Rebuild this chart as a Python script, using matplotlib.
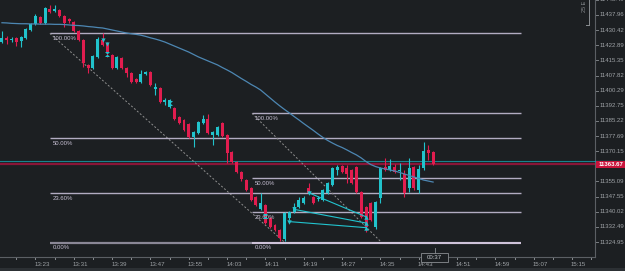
import matplotlib
matplotlib.use("Agg")
import matplotlib.pyplot as plt
from matplotlib.transforms import blended_transform_factory, offset_copy
from matplotlib.path import Path
from matplotlib.patches import Rectangle
from matplotlib.lines import Line2D

plt.rcParams['font.family'] = ['Liberation Sans', 'DejaVu Sans']

# ---------------- data (minutes after 13:00, prices) ----------------
minutes = list(range(16, 107))
opens = [11424.5, 11426.7, 11425.7, 11426.5, 11425.0, 11426.5, 11430.5, 11433.5, 11436.9, 11434.0,
         11440.9, 11439.9, 11440.4, 11437.4, 11436.0, 11434.5, 11430.0, 11425.5, 11413.0, 11411.6,
         11417.0, 11425.5, 11424.0, 11418.0, 11411.6, 11416.5, 11411.6, 11409.1, 11406.1, 11404.6,
         11408.6, 11409.6, 11401.1, 11401.6, 11394.6, 11392.1, 11391.6, 11387.2, 11385.7, 11383.7,
         11377.2, 11379.2, 11384.2, 11386.2, 11378.2, 11378.2, 11384.2, 11378.2, 11369.8, 11364.8,
         11359.8, 11355.8, 11351.8, 11347.4, 11341.4, 11343.4, 11336.9, 11333.4, 11330.9, 11326.4,
         11336.9, 11339.9, 11342.4, 11344.4, 11351.8, 11347.4, 11346.4, 11345.9, 11349.3, 11353.3,
         11360.8, 11362.8, 11361.8, 11360.8, 11362.3, 11349.8, 11342.4, 11344.4, 11332.4, 11346.9,
         11362.3, 11360.8, 11362.3, 11360.5, 11358.8, 11351.8, 11362.3, 11350.8, 11361.8, 11370.8,
         11369.8]
highs = [11430.0, 11427.5, 11427.0, 11427.0, 11427.5, 11431.5, 11434.0, 11438.4, 11437.4, 11441.9,
         11442.9, 11442.9, 11440.9, 11437.9, 11436.5, 11435.0, 11430.5, 11426.0, 11413.5, 11418.0,
         11427.0, 11429.0, 11424.5, 11418.5, 11417.5, 11417.0, 11412.0, 11409.6, 11406.6, 11410.6,
         11410.1, 11410.1, 11404.1, 11402.1, 11396.6, 11396.1, 11392.1, 11387.7, 11386.2, 11384.2,
         11380.2, 11385.2, 11388.2, 11388.7, 11380.2, 11382.7, 11384.7, 11378.7, 11370.3, 11365.3,
         11360.3, 11356.3, 11352.3, 11347.8, 11349.3, 11343.9, 11337.4, 11333.9, 11331.4, 11339.9,
         11340.4, 11344.4, 11347.4, 11347.8, 11354.3, 11347.8, 11347.8, 11351.3, 11354.8, 11362.3,
         11363.3, 11363.3, 11363.3, 11361.3, 11362.8, 11350.3, 11342.9, 11344.9, 11345.4, 11362.3,
         11366.8, 11366.3, 11363.8, 11364.3, 11360.8, 11366.8, 11362.8, 11363.3, 11374.7, 11373.2,
         11370.3]
lows = [11424.0, 11423.5, 11424.5, 11422.5, 11422.0, 11426.0, 11430.0, 11433.0, 11433.5, 11433.5,
        11438.9, 11439.4, 11436.9, 11432.0, 11434.0, 11429.5, 11425.0, 11412.0, 11409.1, 11411.1,
        11416.5, 11422.5, 11417.0, 11411.1, 11411.1, 11411.1, 11407.1, 11404.1, 11404.1, 11404.1,
        11408.1, 11402.6, 11398.1, 11394.1, 11393.1, 11391.6, 11385.7, 11383.7, 11380.2, 11376.7,
        11372.2, 11378.7, 11383.7, 11378.7, 11373.2, 11377.7, 11377.2, 11364.3, 11364.3, 11359.3,
        11355.3, 11350.3, 11345.4, 11342.9, 11340.9, 11333.9, 11331.9, 11330.4, 11325.4, 11325.4,
        11335.9, 11339.4, 11341.9, 11343.9, 11348.8, 11343.9, 11345.4, 11345.4, 11348.8, 11352.8,
        11358.3, 11359.3, 11354.3, 11353.8, 11349.3, 11336.9, 11329.9, 11335.4, 11331.4, 11344.4,
        11360.3, 11360.3, 11359.3, 11355.8, 11347.4, 11349.8, 11350.8, 11349.3, 11360.8, 11365.8,
        11363.3]
closes = [11426.5, 11425.7, 11426.0, 11424.5, 11427.0, 11431.0, 11433.5, 11437.4, 11434.0, 11441.4,
          11439.4, 11440.9, 11437.4, 11434.0, 11435.0, 11430.0, 11425.5, 11414.0, 11411.6, 11417.5,
          11426.0, 11423.0, 11419.5, 11411.6, 11417.0, 11411.6, 11409.1, 11404.6, 11404.6, 11408.6,
          11409.6, 11403.1, 11402.1, 11394.6, 11395.6, 11395.6, 11386.2, 11384.2, 11380.7, 11377.2,
          11379.7, 11384.7, 11386.2, 11379.2, 11379.7, 11382.2, 11377.7, 11369.3, 11364.8, 11359.8,
          11356.3, 11350.8, 11345.9, 11343.4, 11344.4, 11334.4, 11332.4, 11330.9, 11326.9, 11339.4,
          11339.9, 11342.4, 11345.9, 11346.9, 11349.3, 11344.4, 11346.9, 11350.8, 11354.3, 11361.8,
          11362.3, 11359.8, 11358.8, 11354.3, 11349.8, 11337.4, 11332.4, 11335.9, 11344.9, 11361.8,
          11360.8, 11362.8, 11359.8, 11360.8, 11349.3, 11361.8, 11351.8, 11361.3, 11370.3, 11369.3,
          11363.67]
moving_avg = [11434.1, 11434.0, 11433.8, 11433.7, 11433.6, 11433.6, 11433.5, 11433.5, 11433.4, 11433.4,
              11433.4, 11433.3, 11433.3, 11433.2, 11433.0, 11432.8, 11432.7, 11432.5, 11432.2, 11432.0,
              11431.7, 11431.5, 11431.0, 11430.5, 11430.0, 11429.5, 11429.0, 11428.6, 11428.3, 11427.9,
              11427.3, 11426.6, 11426.0, 11425.3, 11424.5, 11423.5, 11422.5, 11421.5, 11420.5, 11419.5,
              11418.3, 11417.1, 11416.1, 11415.1, 11414.1, 11413.1, 11411.8, 11410.6, 11409.3, 11407.8,
              11406.3, 11404.9, 11403.4, 11402.1, 11400.6, 11398.6, 11396.6, 11394.6, 11392.7, 11390.9,
              11389.2, 11387.4, 11385.7, 11383.9, 11382.2, 11380.5, 11378.7, 11377.0, 11375.5, 11374.2,
              11373.0, 11372.0, 11370.8, 11369.5, 11368.3, 11366.8, 11365.0, 11363.5, 11362.5, 11361.8,
              11361.3, 11360.8, 11360.3, 11359.6, 11358.8, 11358.1, 11357.3, 11356.6, 11355.8, 11355.3,
              11354.8]

time_labels = ['13:23', '13:31', '13:39', '13:47', '13:55', '14:03', '14:11', '14:19',
               '14:27', '14:35', '14:43', '14:51', '14:59', '15:07', '15:15']
price_labels = ['11445.49', '11437.96', '11430.42', '11422.89', '11415.35', '11407.82',
                '11400.29', '11392.75', '11385.22', '11377.69', '11370.15',
                '11355.09', '11347.55', '11340.02', '11332.49', '11324.95']

bid_price = 11363.67
ask_price = 11365.1

fib1_times = [26.0, 75.1]
fib1_prices = [11428.8, 11324.6]
fib2_times = [68.2, 95.3]
fib2_prices = [11389.0, 11324.6]
fib_end_time = 124.4
fib_ratios = [1.0, 0.5, 0.236, 0.0]
fib_texts = ['100.00%', '50.00%', '23.60%', '0.00%']

entry_times = [80, 77, 76]
entry_prices = [11349.5, 11341.2, 11335.1]
exit_times = [92, 92, 92]
exit_prices = [11337.5, 11334.4, 11332.1]

cross_times = [38, 51, 71]
cross_prices = [11418.5, 11394.1, 11337.9]
sell_times = [37, 38]
sell_prices = [11425.5, 11423.5]

timer_text = '00:37'
corner_text = '25 E'

# ---------------- figure ----------------
W, H = 625, 271
BG = '#1c1f22'
fig = plt.figure(figsize=(W / 100, H / 100), dpi=100)
fig.patch.set_facecolor(BG)
ax = fig.add_axes([0, 14 / H, 595 / W, 257 / H])
ax.set_facecolor(BG)
ax.set_xlim(15.59, 139.80)
ax.set_ylim(11317.49, 11445.42)
ax.set_xticks([])
ax.set_yticks([])
for s in ['top', 'left']:
    ax.spines[s].set_visible(False)
for s in ['right', 'bottom']:
    ax.spines[s].set_color('#5b5f64')
    ax.spines[s].set_linewidth(0.8)

blend_xa_yd = blended_transform_factory(ax.transAxes, ax.transData)
blend_xd_ya = blended_transform_factory(ax.transData, ax.transAxes)

# current price lines
ax.axhline(ask_price, color='#17848f', lw=0.8, zorder=2)
ax.axhline(bid_price, color='#8a1538', lw=1.6, zorder=2)

# fibonacci retracements
LEVEL_COL = '#b2acc2'
for (t0, t1), (p100, p0), zero_col, zero_lw in [
        (fib1_times, fib1_prices, '#8a8796', 1.6),
        (fib2_times, fib2_prices, '#e4d4ee', 1.1)]:
    ax.plot([t0, t1], [p100, p0], color='#8f8f8f', lw=0.7, ls=(0, (2, 2)), zorder=3)
    for r, lab in zip(fib_ratios, fib_texts):
        lvl = p0 + r * (p100 - p0)
        col = zero_col if r == 0 else LEVEL_COL
        lw = zero_lw if r == 0 else 1.0
        ax.plot([t0, fib_end_time], [lvl, lvl], color=col, lw=lw, zorder=3, solid_capstyle='butt')
        ax.text(t0, lvl, lab, fontsize=4.3, color='#c9c2d6', ha='left', va='top', zorder=6,
                transform=offset_copy(ax.transData, fig=fig, x=3, y=-2.5, units='dots'))

# candles
BULL = '#21c3cc'
BEAR = '#e11d4f'
for t, o, h, l, c in zip(minutes, opens, highs, lows, closes):
    col = BULL if c >= o else BEAR
    ax.vlines(t, l, h, color=col, lw=0.8, zorder=4)
    body = max(abs(c - o), 0.6)
    ax.bar(t, body, bottom=min(o, c) - (body - abs(c - o)) / 2, width=0.62,
           color=col, linewidth=0, zorder=5)

# moving average
ax.plot(minutes, moving_avg, color='#4d87b3', lw=0.9, zorder=6)

# trade lines and markers
MARK = '#22c4cf'
for et, ep, xt, xp in zip(entry_times, entry_prices, exit_times, exit_prices):
    ax.plot([et, xt], [ep, xp], color=MARK, lw=0.8, zorder=7)
ax.plot(entry_times, entry_prices, 'v', color=MARK, ms=3.2, mew=0, zorder=8)
ax.plot(exit_times, exit_prices, '^', color=MARK, ms=3.2, mew=0, zorder=8)
hourglass = Path([(-1, 1), (1, 1), (-1, -1), (1, -1), (-1, 1)],
                 [Path.MOVETO, Path.LINETO, Path.LINETO, Path.LINETO, Path.CLOSEPOLY])
ax.plot(cross_times, cross_prices, ls='none', marker=hourglass, color=MARK, ms=3.6, mew=0, zorder=8)
ax.plot(sell_times, sell_prices, 'v', color=MARK, ms=3.0, mew=0, zorder=8)

# ---------------- right price scale ----------------
for lab in price_labels:
    p = float(lab)
    ax.plot([1.0, 1.0 + 3 / 595], [p, p], color='#7a7e83', lw=0.7, transform=blend_xa_yd,
            clip_on=False, zorder=1)
    ax.text(1.0, p, lab, fontsize=4.3, color='#9ea2a6', ha='left', va='center', clip_on=False,
            transform=offset_copy(blend_xa_yd, fig=fig, x=5, y=0, units='dots'))

# ask tick line and bid tag
ax.plot([1.0, 1.0 + 30 / 595], [ask_price, ask_price], color='#17a0ad', lw=0.9,
        transform=blend_xa_yd, clip_on=False, zorder=9)
tag = Rectangle((1.0 + 1 / 595, bid_price - 1.85), 30 / 595, 3.7, transform=blend_xa_yd,
                facecolor='#c8143c', edgecolor='none', clip_on=False, zorder=10)
ax.add_patch(tag)
ax.text(1.0, bid_price, f'{bid_price:.2f}', fontsize=4.3, color='white', fontweight='bold',
        ha='left', va='center', clip_on=False, zorder=11,
        transform=offset_copy(blend_xa_yd, fig=fig, x=4, y=0, units='dots'))

# ---------------- bottom time scale ----------------
for m4 in range(15, 140, 4):
    ax.plot([m4, m4], [0, -2 / 257], color='#8a8e92', lw=0.7, transform=blend_xd_ya,
            clip_on=False)
for lab in time_labels:
    hh, mm = lab.split(':')
    t = (int(hh) - 13) * 60 + int(mm)
    ax.text(t, 0, lab, fontsize=4.4, color='#9ea2a6', ha='left', va='center', clip_on=False,
            transform=offset_copy(blend_xd_ya, fig=fig, x=-1, y=-7, units='dots'))

# countdown timer box
last_t = minutes[-1]
ax.add_patch(Rectangle((last_t - 2.5, -4.7 / 257), 5.55, 9 / 257, transform=blend_xd_ya,
                       facecolor=BG, edgecolor='#8a8e92', lw=0.6, clip_on=False, zorder=12))
ax.plot([last_t + 0.5, last_t + 0.5], [4.3 / 257, 9 / 257], color='#8a8e92', lw=0.6,
        transform=blend_xd_ya, clip_on=False, zorder=12)
ax.text(last_t + 0.27, -0.2 / 257, timer_text, fontsize=4.3, color='#c2c6ca', ha='center',
        va='center', transform=blend_xd_ya, clip_on=False, zorder=13)

# scroll strip at bottom
fig.add_artist(Rectangle((0, 0), 1, 3 / H, transform=fig.transFigure,
                         facecolor='#2c3034', edgecolor='none'))

# corner label with bracket
fig.text(584.5 / W, 1 - 6 / H, corner_text, rotation=90, fontsize=4.0, color='#8a8e92',
         ha='center', va='center')
fig.add_artist(Line2D([589 / W, 589 / W], [1, 1 - 25 / H], color='#8a8e92', lw=0.7))
fig.add_artist(Line2D([586 / W, 589 / W], [1 - 25 / H, 1 - 25 / H], color='#8a8e92', lw=0.7))

fig.savefig('out.png', dpi=100, facecolor=BG)
